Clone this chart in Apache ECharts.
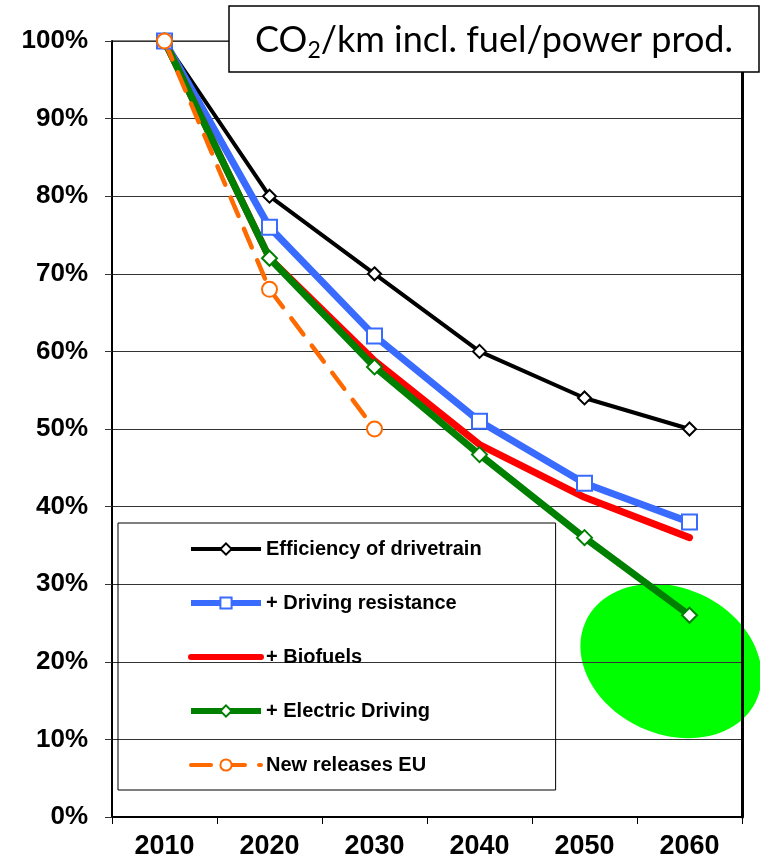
<!DOCTYPE html>
<html><head><meta charset="utf-8">
<script src="https://cdn.jsdelivr.net/npm/echarts@6/dist/echarts.min.js"></script>
<style>html,body{margin:0;padding:0;background:#fff}#c{width:760px;height:861px}</style>
</head><body><div id="c"></div>
<script>
const years = ['2010','2020','2030','2040','2050','2060'];
const efficiency = [100, 80, 70, 60, 54, 50];
const resistance = [100, 76, 62, 51, 43, 38];
const biofuels = [100, 72, 58.8, 48, 41.2, 36];
const electric = [100, 72, 58, 46.7, 36, 26];
const newReleasesEU = [100, 68, 50, null, null, null];
const seriesNames = ['Efficiency of drivetrain', '+ Driving resistance', '+ Biofuels', '+ Electric Driving', 'New releases EU'];

const chart = echarts.init(document.getElementById('c'));
const F = 'Liberation Sans, Arial, sans-serif';
const C = { black: '#000', blue: '#3a6bff', red: '#ff0000', green: '#008000', orange: '#ff6a00' };
chart.setOption({
  animation: false,
  backgroundColor: '#fff',
  grid: { left: 112, right: 18, top: 41, bottom: 44, show: true, borderColor: '#000', borderWidth: 1 },
  xAxis: {
    type: 'category', data: years, boundaryGap: true,
    axisLine: { lineStyle: { color: '#000', width: 2 } },
    axisTick: { show: true, length: 7, lineStyle: { color: '#000', width: 1 } },
    axisLabel: { fontFamily: F, fontWeight: 'bold', fontSize: 27, color: '#000', margin: 16 }
  },
  yAxis: [{
    type: 'value', min: 0, max: 100, interval: 10,
    axisLine: { show: true, lineStyle: { color: '#000', width: 2 } },
    axisTick: { show: true, length: 7, lineStyle: { color: '#333', width: 1 } },
    splitLine: { lineStyle: { color: '#333', width: 1 } },
    axisLabel: { formatter: '{value}%', fontFamily: F, fontWeight: 'bold', fontSize: 26, color: '#000', margin: 24 }
  }, {
    type: 'value', min: 0, max: 100, interval: 10, position: 'right',
    axisLine: { show: true, lineStyle: { color: '#000', width: 3 } },
    axisTick: { show: false }, axisLabel: { show: false }, splitLine: { show: false }
  }],
  legend: {
    orient: 'vertical', left: 118, top: 523,
    padding: [16, 74, 15, 70], itemGap: 34, itemWidth: 70, itemHeight: 14,
    borderColor: '#000', borderWidth: 1,
    data: [
      { name: seriesNames[0], lineStyle: { width: 4 } },
      { name: seriesNames[1], lineStyle: { width: 6 } },
      { name: seriesNames[2], lineStyle: { width: 6 }, itemStyle: { color: 'rgba(0,0,0,0)', borderColor: 'rgba(0,0,0,0)', borderWidth: 0 } },
      { name: seriesNames[3], lineStyle: { width: 6 } },
      { name: seriesNames[4], lineStyle: { width: 4 } }
    ],
    textStyle: { fontFamily: F, fontWeight: 'bold', fontSize: 20, color: '#000' }
  },
  graphic: [
    { type: 'ellipse', x: 671, y: 661, rotation: -0.436, z: -10,
      shape: { cx: 0, cy: 0, rx: 94, ry: 73 }, style: { fill: '#00ff00' } },
    { type: 'rect', z: 100, shape: { x: 229, y: 6, width: 530, height: 66 },
      style: { fill: '#fff', stroke: '#000', lineWidth: 1.5 } },
    { type: 'text', z: 101, x: 494, y: 40,
      style: {
        text: 'CO{s|2}/km incl. fuel/power prod.',
        fontFamily: 'Lato', fontSize: 36, fill: '#000',
        align: 'center', verticalAlign: 'middle',
        rich: { s: { fontFamily: 'Lato', fontSize: 23, padding: [22, 0, 0, 0] } }
      } }
  ],
  series: [
    { name: seriesNames[0], type: 'line', data: efficiency, color: C.black,
      lineStyle: { color: C.black, width: 4 }, symbol: 'diamond', symbolSize: 13,
      itemStyle: { color: '#fff', borderColor: C.black, borderWidth: 2 } },
    { name: seriesNames[1], type: 'line', data: resistance, color: C.blue,
      lineStyle: { color: C.blue, width: 7 }, symbol: 'rect', symbolSize: 15,
      itemStyle: { color: '#fff', borderColor: C.blue, borderWidth: 2 } },
    { name: seriesNames[2], type: 'line', data: biofuels, color: C.red,
      lineStyle: { color: C.red, width: 7, cap: 'round' }, symbol: 'none',
      itemStyle: { color: C.red } },
    { name: seriesNames[3], type: 'line', data: electric, color: C.green,
      lineStyle: { color: C.green, width: 7 }, symbol: 'diamond', symbolSize: 15,
      itemStyle: { color: '#fff', borderColor: C.green, borderWidth: 2 } },
    { name: seriesNames[4], type: 'line', data: newReleasesEU, color: C.orange,
      lineStyle: { color: C.orange, width: 4.5, type: [20, 14], cap: 'round' }, symbol: 'circle', symbolSize: 15,
      itemStyle: { color: '#fff', borderColor: C.orange, borderWidth: 2 } }
  ]
});
</script></body></html>
